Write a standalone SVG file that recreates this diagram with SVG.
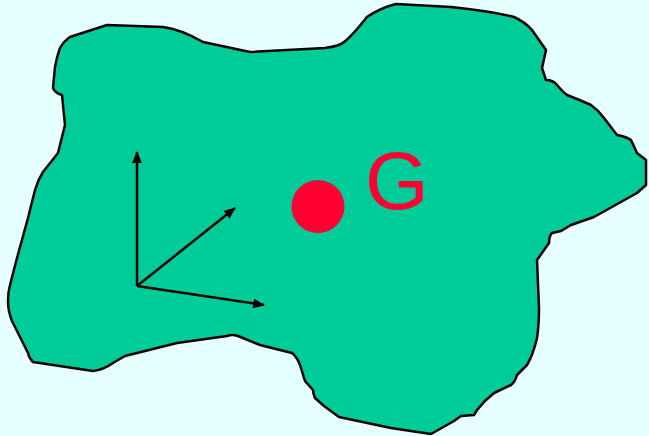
<svg xmlns="http://www.w3.org/2000/svg" width="649" height="436" viewBox="0 0 649 436">
<style>
.ax{stroke:#000;stroke-width:2.5;fill:none;marker-end:url(#ah)}
</style>
<defs>
<marker id="ah" markerWidth="12" markerHeight="10" refX="11" refY="5" orient="auto" markerUnits="userSpaceOnUse">
<path d="M0,0 L12,5 L0,10 Z" fill="#000"/>
</marker>
</defs>
<rect width="649" height="436" fill="#E6FFFF"/>
<g id="body">
<path d="M107,25 L163,27 Q180,29 203,42 L250,52 L325,48 Q340,46 344,42 Q352,36 367,17 Q380,8 396,4 L451,7 Q490,11 514,17 Q525,22 532,30 L546,50 L542,68 L546,80 Q553,80 557,85 Q563,92 567,95 Q580,100 591,105 Q598,110 604,118 L617,135 Q627,137 631,140 L637,153 L646,160 L646,185 L637,193 L594,217 L571,225 L561,231 L552,233 Q549,236 549,243 L537,260 L539,308 Q539,325 537,338 Q533,355 527,365 L517,375 Q515,382 511,385 L494,393 Q485,400 477,410 L474,415 L461,416 L454,421 L431,434 L391,428 L339,417 L324,406 L315,398 Q313,393 313,390 L305,381 L300,365 Q297,357 292,353 L260,345 L238,336 Q232,334 227,336 L177,343 L125,356 Q118,360 113,363 Q103,370 93,371 L33,362 Q29,358 28,353 L12,321 Q8,311 8,301 Q8,292 10,285 L17,258 L28,218 L35,190 Q38,180 43,172 L58,153 L65,125 L62,95 Q55,93 53,88 L55,67 Q57,56 60,48 Q64,41 70,37 Z" fill="#00CC99" stroke="#000" stroke-width="2.5" stroke-linejoin="round"/>
</g>
<g id="G">
<circle cx="318" cy="206.5" r="26.5" fill="#FF0033"/>
<text x="365" y="209" font-family="Liberation Sans, Arial, sans-serif" font-size="82" fill="#FF0033">G</text>
</g>
<g id="connectors">
<line class="ax" x1="137" y1="286" x2="137" y2="152"/>
<line class="ax" x1="137" y1="286" x2="235" y2="208"/>
<line class="ax" x1="137" y1="286" x2="264" y2="305"/>
</g>
</svg>
